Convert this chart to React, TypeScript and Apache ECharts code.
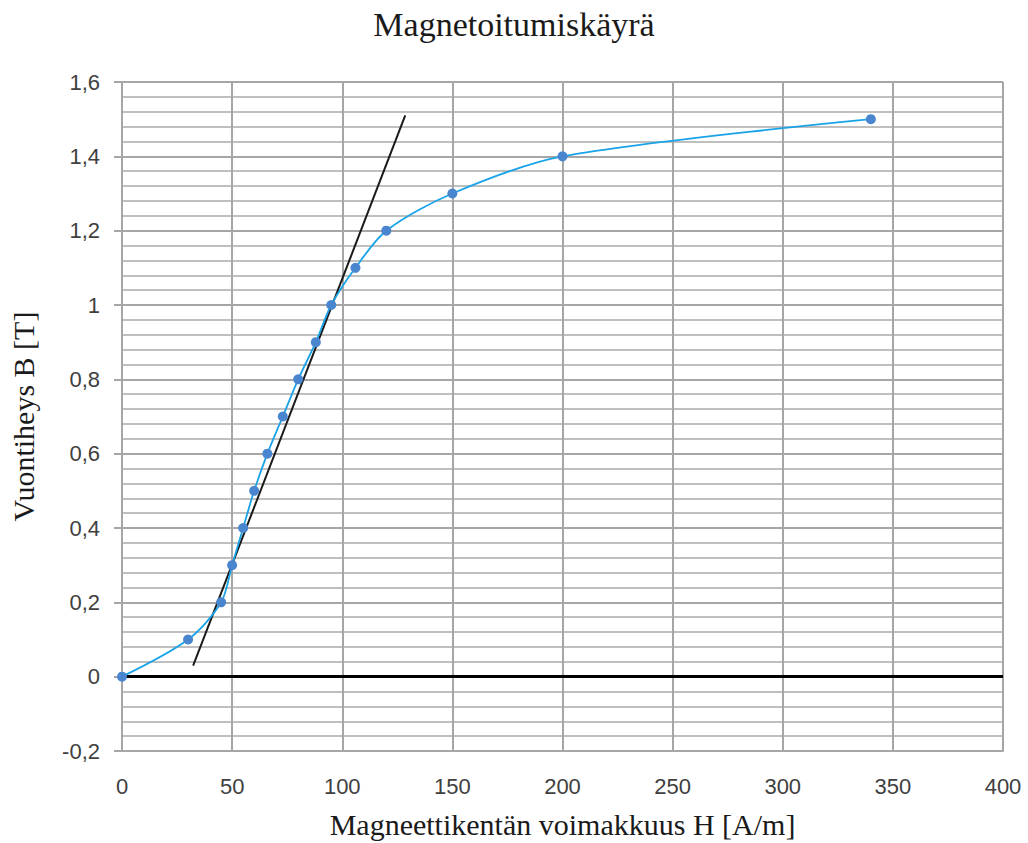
import React, { useEffect, useRef } from "react";
import * as echarts from "echarts";

const hValues = [0, 30, 45, 50, 55, 60, 66, 73, 80, 88, 95, 106, 120, 150, 200, 340];
const bValues = [0, 0.1, 0.2, 0.3, 0.4, 0.5, 0.6, 0.7, 0.8, 0.9, 1.0, 1.1, 1.2, 1.3, 1.4, 1.5];
const tangentH = [32.3, 128.6];
const tangentB = [0.03, 1.51];

const title = "Magnetoitumiskäyrä";
const xName = "Magneettikentän voimakkuus H [A/m]";
const yName = "Vuontiheys B [T]";

export default function App() {
  const ref = useRef<HTMLDivElement>(null);
  useEffect(() => {
    const chart = echarts.init(ref.current!, null, { renderer: "svg" });
    const fmt = (v: number) => String(+v.toFixed(2)).replace(".", ",");
    chart.setOption({
      animation: false,
      backgroundColor: "#ffffff",
      title: {
        text: title,
        left: "center",
        top: 2,
        textStyle: { fontFamily: "Liberation Serif", fontSize: 34, fontWeight: "normal", color: "#1a1a1a" },
      },
      grid: { left: 122, right: 25, top: 82, bottom: 92, containLabel: false, outerBoundsMode: "none" },
      xAxis: {
        type: "value",
        min: 0,
        max: 400,
        interval: 50,
        name: xName,
        nameLocation: "middle",
        nameGap: 58,
        nameTextStyle: { fontFamily: "Liberation Serif", fontSize: 30, color: "#1a1a1a" },
        axisLine: { show: true, onZero: false, lineStyle: { color: "#a6a6a6", width: 2 } },
        axisTick: { show: false },
        axisLabel: { fontFamily: "Liberation Sans", fontSize: 22, color: "#404040", margin: 24 },
        splitLine: { show: true, lineStyle: { color: "#a6a6a6", width: 2 } },
      },
      yAxis: {
        type: "value",
        min: -0.2,
        max: 1.6,
        interval: 0.2,
        name: yName,
        nameLocation: "middle",
        nameGap: 84,
        nameTextStyle: { fontFamily: "Liberation Serif", fontSize: 30, color: "#1a1a1a" },
        axisLine: { show: true, onZero: false, lineStyle: { color: "#a6a6a6", width: 2 } },
        axisTick: { show: true, length: 8, lineStyle: { color: "#a6a6a6", width: 2 } },
        axisLabel: { fontFamily: "Liberation Sans", fontSize: 22, color: "#404040", margin: 22, formatter: fmt },
        splitLine: { show: true, lineStyle: { color: "#a6a6a6", width: 2 } },
        minorTick: { show: false, splitNumber: 5 },
        minorSplitLine: { show: true, lineStyle: { color: "#bfbfbf", width: 2 } },
      },
      series: [
        {
          type: "line",
          data: hValues.map((h, i) => [h, bValues[i]]),
          smooth: 0.3,
          symbol: "circle",
          symbolSize: 10,
          lineStyle: { color: "#1aa3e8", width: 1.8 },
          itemStyle: { color: "#4a86cf" },
          z: 5,
          markLine: {
            silent: true,
            symbol: "none",
            label: { show: false },
            lineStyle: { color: "#000000", width: 3, type: "solid" },
            data: [{ yAxis: 0 }],
          },
        },
        {
          type: "line",
          data: tangentH.map((h, i) => [h, tangentB[i]]),
          symbol: "none",
          lineStyle: { color: "#1a1a1a", width: 2 },
          z: 4,
        },
      ],
    });
    return () => chart.dispose();
  }, []);
  return <div ref={ref} style={{ position: "absolute", left: 0, top: 0, width: 1028, height: 843 }} />;
}
